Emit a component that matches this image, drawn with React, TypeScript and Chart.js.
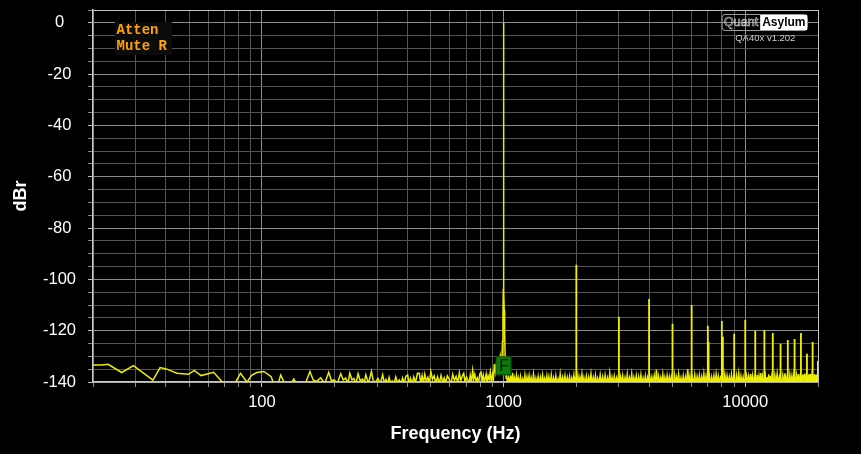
import React, { useEffect, useRef } from 'react';
import { Chart, registerables } from 'chart.js';

Chart.register(...registerables);

// ---------- axis definitions ----------
const X_MIN = 20;
const X_MAX = 20000;
const Y_MIN = -140;
const Y_MAX = 5;
const Y_STEP = 5;
const Y_LABEL_EVERY = 20;
const xGridValues = [
  20, 30, 40, 50, 60, 70, 80, 90, 100,
  200, 300, 400, 500, 600, 700, 800, 900, 1000,
  2000, 3000, 4000, 5000, 6000, 7000, 8000, 9000, 10000, 20000,
];
const xLabelValues = [100, 1000, 10000];

// ---------- data: spectrum trace [Hz, dBr] ----------
const lowNoise: [number, number][] = [
  [20, -133.4], [21.7, -133.4], [23.1, -133.1], [26.3, -136.3], [29.4, -133.6],
  [35.4, -139.3], [37.9, -134.4], [40.2, -134.9], [44.5, -136.6], [49.7, -137.0],
  [52.5, -135.5], [56, -137.5], [63.1, -136.2], [69, -140.3], [76.4, -141.5],
  [81.5, -136.6], [86.8, -140.1], [90.5, -137.4], [95.3, -136.3], [101.9, -135.9],
  [109.2, -137.9], [111.4, -140.3], [116, -141.5], [119.6, -137.3], [124, -140.4],
  [130, -141.5], [135.5, -138.8], [139, -140.6], [150, -141.5], [158, -135.9],
  [163, -139.2], [168, -139.8], [175, -138.4], [182, -140.5], [189, -136.2],
  [194, -139.5], [199, -139.2], [205, -140.5], [212, -136.8], [217, -139.2],
  [222, -138.4], [227, -140.5], [231, -136.6], [236, -139.2], [240, -138.6],
  [245, -140.5], [250, -136.8], [255, -139.5], [261, -138.9], [265, -140.5],
  [269, -137.2], [276, -140.5], [284, -135.9], [288, -139.0], [293, -140.6],
];

const midNoise: [number, number][] = [
  [302, -138.6], [309, -140.6], [316, -137.2], [321, -140.4], [326, -139.0], [331, -140.8],
  [336, -138.2], [341, -140.5], [346, -139.6], [352, -140.8], [358, -138.0], [364, -140.4],
  [370, -139.2], [376, -140.7], [382, -138.4], [388, -140.6], [394, -137.8], [401, -137.2],
  [406, -140.5], [412, -138.6], [418, -140.8], [425, -138.0], [432, -140.3], [440, -136.6],
  [448, -136.6], [454, -140.4], [460, -137.5], [466, -140.6], [472, -137.0], [479, -139.8],
  [486, -138.2], [493, -140.5], [500, -135.9], [508, -139.0], [516, -137.6], [524, -140.4],
  [533, -138.0], [542, -140.6], [551, -137.4], [560, -140.2], [568, -138.4], [576, -140.5],
  [585, -137.6], [596, -139.0], [606, -140.6], [616, -137.0], [626, -139.4], [636, -137.8],
  [646, -140.4], [656, -136.4], [665, -139.6], [675, -137.6], [684, -136.6], [693, -140.2],
  [702, -138.0], [711, -139.2], [720, -140.5], [728, -137.4], [736, -140.2], [745, -135.5],
  [752, -139.0], [760, -137.0], [769, -139.6], [778, -138.4], [788, -140.5], [797, -136.8],
  [807, -136.2], [815, -139.8], [824, -137.4], [833, -140.4], [841, -138.2], [847, -136.9],
  [855, -140.2], [863, -137.6], [872, -139.0], [881, -136.2], [890, -140.4], [900, -137.0],
  [908, -138.8], [916, -133.0], [925, -136.0], [935, -132.5], [945, -137.0], [955, -131.5],
  [962, -134.0], [970, -130.0], [978, -132.0],
];

const fundamental: [number, number][] = [
  [985, -131], [990, -124], [994, -114], [997, -104], [999, -60], [1000, 0],
  [1001, -60], [1003, -104], [1006, -112], [1010, -121], [1015, -130], [1020, -135.5],
  [1025, -138.5],
];

const highNoise: [number, number][] = [
  [1030, -137.5], [1040, -140.8], [1050, -138.2], [1060, -141], [1070, -137.9], [1080, -140.6],
  [1090, -136.4], [1100, -141], [1110, -138.6], [1120, -140.9], [1130, -137.6], [1140, -141],
  [1150, -138.4], [1162, -140.7], [1175, -137.8], [1188, -141], [1200, -138.9], [1212, -140.8],
  [1225, -137.3], [1238, -141], [1250, -138.1], [1262, -140.6], [1275, -137.6], [1288, -141],
  [1300, -138.3], [1315, -140.9], [1330, -137.0], [1345, -141], [1360, -138.5], [1375, -140.7],
  [1390, -137.9], [1405, -141], [1420, -138.2], [1435, -140.8], [1450, -137.4], [1465, -141],
  [1480, -138.6], [1495, -140.6], [1510, -137.7], [1525, -141], [1540, -138.0], [1558, -140.9],
  [1575, -137.2], [1592, -141], [1610, -138.4], [1628, -140.7], [1645, -137.6], [1662, -141],
  [1680, -138.8], [1698, -140.8], [1715, -136.9], [1735, -141], [1755, -138.1], [1775, -140.6],
  [1795, -137.5], [1815, -141], [1835, -138.3], [1855, -140.9], [1875, -137.8], [1895, -141],
  [1915, -138.5], [1935, -140.7], [1955, -137.3], [1975, -141], [1990, -138.0],
  [2010, -140.8], [2030, -137.6], [2050, -141], [2070, -138.2], [2090, -140.6], [2110, -137.0],
  [2130, -141], [2150, -138.4], [2175, -140.9], [2200, -137.7], [2225, -141], [2250, -138.1],
  [2275, -140.7], [2300, -136.8], [2325, -141], [2350, -138.3], [2375, -140.8], [2400, -137.5],
  [2425, -141], [2450, -138.6], [2480, -140.6], [2510, -137.2], [2540, -141], [2570, -138.0],
  [2600, -140.9], [2630, -137.4], [2660, -141], [2690, -138.4], [2720, -140.7], [2750, -136.6],
  [2780, -141], [2810, -138.2], [2840, -140.8], [2870, -137.8], [2900, -141], [2930, -138.5],
  [2960, -140.6], [2990, -137.3], [3020, -141], [3050, -138.1], [3080, -140.9], [3110, -137.6],
  [3145, -141], [3180, -138.3], [3215, -140.7], [3250, -137.0], [3285, -141], [3320, -138.4],
  [3355, -140.8], [3390, -136.9], [3425, -141], [3460, -138.2], [3500, -140.6], [3540, -137.5],
  [3580, -141], [3620, -138.0], [3660, -140.9], [3700, -137.2], [3740, -141], [3780, -138.5],
  [3820, -140.7], [3860, -137.7], [3900, -141], [3940, -138.3], [3980, -140.8],
  [4020, -137.4], [4065, -141], [4110, -138.1], [4155, -140.6], [4200, -137.6], [4245, -141],
  [4290, -135.2], [4335, -140.9], [4380, -137.9], [4425, -141], [4470, -138.4], [4515, -140.7],
  [4560, -137.1], [4605, -141], [4650, -138.2], [4700, -140.8], [4750, -137.5], [4800, -141],
  [4850, -138.0], [4900, -140.6], [4950, -137.7],
  [5050, -141], [5100, -137.3], [5150, -140.9], [5200, -138.3], [5250, -141], [5300, -137.0],
  [5360, -140.7], [5420, -138.4], [5480, -141], [5540, -137.6], [5600, -140.8], [5660, -138.1],
  [5720, -141], [5780, -135.0], [5840, -140.6], [5900, -137.8], [5960, -141],
  [6040, -138.2], [6110, -140.9], [6180, -137.2], [6250, -141], [6320, -137.9], [6390, -140.7],
  [6460, -137.4], [6530, -141], [6600, -138.0], [6670, -140.8], [6740, -136.8], [6810, -141],
  [6880, -137.7], [6950, -140.6],
  [7100, -137.3], [7180, -141], [7260, -138.1], [7340, -140.9], [7420, -137.5], [7500, -141],
  [7580, -136.9], [7660, -140.7], [7740, -137.8], [7820, -141], [7900, -138.2],
  [8140, -140.8], [8230, -137.0], [8320, -141], [8410, -137.6], [8500, -140.6], [8590, -138.0],
  [8680, -141], [8770, -137.2], [8860, -140.9], [8950, -137.9],
  [9100, -141], [9200, -137.4], [9300, -140.7], [9400, -136.6], [9500, -141], [9600, -137.8],
  [9700, -140.8], [9800, -138.1], [9900, -141],
  [10100, -137.3], [10200, -140.9], [10300, -137.9], [10400, -141], [10500, -136.9], [10600, -140.6],
  [10700, -137.6], [10800, -141], [10900, -138.0],
  [11100, -140.8], [11200, -137.2], [11300, -141], [11400, -137.7], [11500, -140.7], [11600, -136.5],
  [11700, -141], [11800, -137.9], [11900, -140.9],
  [12100, -137.4], [12200, -141], [12300, -138.1], [12400, -140.6], [12500, -137.0], [12600, -141],
  [12700, -137.6], [12800, -140.8], [12900, -138.2],
  [13100, -141], [13250, -137.3], [13400, -140.9], [13550, -136.7], [13700, -141], [13850, -137.8],
  [14150, -140.7], [14300, -137.5], [14450, -141], [14600, -136.6], [14750, -140.8], [14900, -137.9],
  [15150, -141], [15300, -137.2], [15450, -140.6], [15600, -137.7], [15750, -141], [15900, -136.8],
  [16150, -140.9], [16300, -137.4], [16450, -141], [16600, -136.9], [16750, -140.7], [16900, -137.6],
  [17150, -141], [17300, -137.1], [17450, -140.8], [17600, -136.7], [17750, -141], [17900, -137.5],
  [18150, -140.6], [18300, -137.0], [18450, -141], [18600, -136.8], [18750, -140.9], [18900, -137.3],
  [19150, -141], [19300, -136.9], [19450, -140.7], [19600, -137.2], [19750, -141], [19900, -136.6],
  [20000, -138.5],
];

// ---------- data: harmonic / spur lines ----------
const harmonicFreqs = [
  2000, 3000, 4000, 5000, 6000, 7000, 7050, 8000, 8080, 9000, 10000,
  11000, 12000, 13000, 14000, 15000, 16000, 17000, 18000, 19000, 19990,
];
const harmonicLevels = [
  -94.3, -114.6, -107.6, -117.3, -110.0, -118.1, -124.4, -116.2, -122.4, -121.2, -115.8,
  -120.0, -119.7, -120.9, -125.1, -123.6, -123.2, -120.9, -129.0, -124.4, -131.8,
];
const SPIKE_BASE = -142;

// ---------- annotations ----------
const legendLines = ['Atten', 'Mute R'];
const MARKER_FREQ = 1000;
const MARKER_LEVEL = -133.7;
const MARKER_LABEL = 'F';
const LOGO_LEFT = 'Quant';
const LOGO_RIGHT = 'Asylum';
const VERSION_TEXT = 'QA40x v1.202';

const FONT = '"Liberation Sans", Arial, sans-serif';
const TRACE_COLOR = '#ecec00';

const overlayPlugin = {
  id: 'qaOverlay',
  afterDatasetsDraw(chart: any) {
    const { ctx, chartArea, scales } = chart;
    const xs = scales.x;
    const ys = scales.y;
    ctx.save();

    // marker box "F"
    const mx = xs.getPixelForValue(MARKER_FREQ);
    const my = ys.getPixelForValue(MARKER_LEVEL);
    const mw = 15;
    const mh = 18;
    ctx.fillStyle = '#0b7d0b';
    ctx.fillRect(mx - mw / 2, my - mh / 2, mw, mh);
    ctx.strokeStyle = '#044a04';
    ctx.lineWidth = 1;
    ctx.strokeRect(mx - mw / 2, my - mh / 2, mw, mh);
    ctx.fillStyle = '#0a0a0a';
    ctx.font = `16px ${FONT}`;
    ctx.textAlign = 'center';
    ctx.textBaseline = 'middle';
    ctx.fillText(MARKER_LABEL, mx + 0.5, my + 1);

    // legend box
    const lx = chartArea.left + 22;
    const ly = chartArea.top + 12;
    ctx.fillStyle = '#0b0b0b';
    ctx.fillRect(lx, ly, 57, 33);
    ctx.font = 'bold 14px "Liberation Mono", "DejaVu Sans Mono", monospace';
    ctx.fillStyle = '#ffa500';
    ctx.textAlign = 'left';
    ctx.textBaseline = 'alphabetic';
    legendLines.forEach((t, i) => ctx.fillText(t, lx + 1.5, ly + 11.5 + i * 16));

    // logo
    const right = chartArea.right - 11;
    const top = chartArea.top + 4;
    const h = 16;
    ctx.font = `bold 12px ${FONT}`;
    const aw = ctx.measureText(LOGO_RIGHT).width + 4;
    ctx.font = `12.5px ${FONT}`;
    const qw = ctx.measureText(LOGO_LEFT).width + 4;
    const left = right - aw - qw;
    ctx.strokeStyle = '#9a9a9a';
    ctx.lineWidth = 1;
    ctx.beginPath();
    if (ctx.roundRect) ctx.roundRect(left + 0.5, top + 0.5, aw + qw, h, 3);
    else ctx.rect(left + 0.5, top + 0.5, aw + qw, h);
    ctx.stroke();
    ctx.fillStyle = '#ffffff';
    ctx.fillRect(right - aw + 0.5, top + 1, aw - 0.5, h - 1);
    ctx.textBaseline = 'middle';
    ctx.textAlign = 'left';
    ctx.strokeStyle = '#d8d8d8';
    ctx.lineWidth = 0.6;
    ctx.strokeText(LOGO_LEFT, left + 2.5, top + h / 2 + 1);
    ctx.font = `bold 12px ${FONT}`;
    ctx.fillStyle = '#000000';
    ctx.fillText(LOGO_RIGHT, right - aw + 2.5, top + h / 2 + 1);
    ctx.font = `9.5px ${FONT}`;
    ctx.fillStyle = '#d0d0d0';
    ctx.textAlign = 'center';
    ctx.fillText(VERSION_TEXT, (left + right) / 2 + 1, top + h + 8);

    ctx.restore();
  },
};

export default function App() {
  const canvasRef = useRef<HTMLCanvasElement | null>(null);

  useEffect(() => {
    document.body.style.margin = '0';
    document.body.style.background = '#000';
    const canvas = canvasRef.current;
    if (!canvas) return;

    const trace = [...lowNoise, ...midNoise, ...fundamental, ...highNoise].map(([x, y]) => ({ x, y }));
    const spikes = harmonicFreqs.flatMap((f, i) => [
      { x: f, y: SPIKE_BASE },
      { x: f, y: harmonicLevels[i] },
      { x: f, y: SPIKE_BASE },
    ]);

    const majorGrid = '#8e8e8e';
    const minorGrid = '#545454';
    const edgeGrid = '#c4c4c4';

    const chart = new Chart(canvas, {
      type: 'line',
      data: {
        datasets: [
          {
            data: spikes,
            borderColor: '#f2f200',
            borderWidth: 1.8,
            pointRadius: 0,
            tension: 0,
            clip: 0,
          },
          {
            data: trace,
            borderColor: TRACE_COLOR,
            borderWidth: 1.5,
            pointRadius: 0,
            tension: 0,
            clip: 0,
          },
        ],
      },
      options: {
        animation: false,
        responsive: true,
        maintainAspectRatio: false,
        events: [],
        layout: { padding: { top: 10, right: 43, left: 0, bottom: 0 } },
        plugins: {
          legend: { display: false },
          tooltip: { enabled: false },
        },
        scales: {
          x: {
            type: 'logarithmic',
            min: X_MIN,
            max: X_MAX,
            afterBuildTicks: (scale: any) => {
              scale.ticks = xGridValues.map((v) => ({ value: v, major: xLabelValues.includes(v) }));
            },
            afterFit: (scale: any) => {
              scale.height = 72;
              scale.paddingLeft = 0;
              scale.paddingRight = 0;
            },
            ticks: {
              autoSkip: false,
              maxRotation: 0,
              minRotation: 0,
              padding: 6,
              color: '#ffffff',
              font: { family: FONT, size: 16.5 },
              callback: (v: any) => (xLabelValues.includes(Number(v)) ? String(v) : ''),
            },
            grid: {
              color: (c: any) =>
                c.tick && c.tick.value === X_MAX
                  ? edgeGrid
                  : c.tick && xLabelValues.includes(c.tick.value)
                  ? majorGrid
                  : minorGrid,
              tickColor: (c: any) =>
                c.tick && xLabelValues.includes(c.tick.value) ? '#bdbdbd' : '#8a8a8a',
              tickLength: 5,
              lineWidth: 1,
            },
            border: { color: '#c8c8c8', width: 1.5 },
            title: {
              display: true,
              text: 'Frequency (Hz)',
              color: '#ffffff',
              font: { family: FONT, size: 18, weight: 'bold' },
              padding: { top: 4, bottom: 9 },
            },
          },
          y: {
            type: 'linear',
            min: Y_MIN,
            max: Y_MAX,
            afterFit: (scale: any) => {
              scale.width = 93;
              scale.paddingTop = 0;
              scale.paddingBottom = 0;
            },
            ticks: {
              stepSize: Y_STEP,
              autoSkip: false,
              crossAlign: 'center',
              padding: 12,
              color: '#ffffff',
              font: { family: FONT, size: 16.5 },
              callback: (v: any) => (Number(v) % Y_LABEL_EVERY === 0 ? String(v) : ''),
            },
            grid: {
              color: (c: any) =>
                c.tick && c.tick.value === Y_MAX
                  ? edgeGrid
                  : c.tick && c.tick.value % Y_LABEL_EVERY === 0
                  ? majorGrid
                  : minorGrid,
              tickColor: (c: any) =>
                c.tick && c.tick.value % Y_LABEL_EVERY === 0 ? '#bdbdbd' : '#8a8a8a',
              tickLength: 5,
              lineWidth: 1,
            },
            border: { color: '#c8c8c8', width: 1.5 },
            title: {
              display: true,
              text: 'dBr',
              color: '#ffffff',
              font: { family: FONT, size: 18, weight: 'bold' },
              padding: { top: 10, bottom: 4 },
            },
          },
        },
      },
      plugins: [overlayPlugin],
    } as any);

    return () => chart.destroy();
  }, []);

  return (
    <div style={{ position: 'fixed', left: 0, top: 0, width: 861, height: 454, background: '#000' }}>
      <canvas ref={canvasRef} />
    </div>
  );
}
